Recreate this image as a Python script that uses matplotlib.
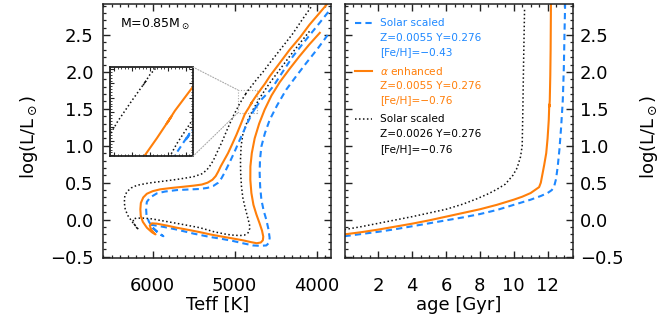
import matplotlib
matplotlib.use("Agg")
import matplotlib.pyplot as plt
from matplotlib.patches import ConnectionPatch, Rectangle
from matplotlib.ticker import MultipleLocator

# HR tracks, PMS -> ZAMS -> MS -> RGB  (Teff [K], log L/Lsun)
teff_solar1 = [3864, 3990, 4126, 4250, 4370, 4480, 4572, 4630, 4673, 4690, 4694, 4688, 4673, 4645,
               4613, 4585, 4572, 4585, 4613, 4690, 4775, 4900, 5018, 5160, 5301, 5500, 5706, 5860,
               5990, 6030, 5990, 5930, 5869,
               5920, 5990, 6045, 6075, 6080, 6071, 6030, 5949, 5850, 5706, 5560, 5423, 5330, 5261,
               5200, 5160, 5120, 5085, 5050, 5000, 4937, 4880, 4830, 4780, 4740, 4752, 4725, 4670,
               4600, 4532, 4420, 4289, 4170, 4046, 3930, 3823, 3790]
logl_solar1 = [2.50, 2.31, 2.12, 1.94, 1.76, 1.55, 1.35, 1.17, 0.99, 0.81, 0.63, 0.45, 0.27, 0.12,
               0.0, -0.14, -0.25, -0.32, -0.35, -0.355, -0.35, -0.32, -0.29, -0.26, -0.235, -0.19,
               -0.135, -0.10, -0.075, -0.07, -0.12, -0.18, -0.225,
               -0.19, -0.12, -0.03, 0.06, 0.15, 0.24, 0.30, 0.355, 0.38, 0.40, 0.408, 0.415, 0.43,
               0.455, 0.50, 0.56, 0.64, 0.72, 0.80, 0.92, 1.08, 1.22, 1.34, 1.45, 1.525, 1.50, 1.545,
               1.63, 1.71, 1.80, 1.99, 2.21, 2.38, 2.55, 2.71, 2.86, 2.92]

teff_alpha = [3960, 4090, 4210, 4330, 4450, 4550, 4633, 4700, 4755, 4790, 4807, 4808, 4795, 4770,
              4734, 4695, 4665, 4650, 4655, 4680, 4730, 4800, 4900, 5050, 5180, 5300, 5423, 5560,
              5706, 5830, 5949, 6010, 6035, 6020, 5985, 5965,
              6010, 6070, 6120, 6145, 6150, 6144, 6115, 6071, 6000, 5909, 5760, 5626, 5500, 5400,
              5330, 5270, 5230, 5200, 5170, 5130, 5080, 5030, 4977, 4925, 4875, 4830, 4790, 4803,
              4780, 4735, 4680, 4630, 4572, 4450, 4329, 4200, 4086, 3970, 3864, 3840]
logl_alpha = [2.53, 2.37, 2.21, 2.04, 1.86, 1.68, 1.49, 1.30, 1.10, 0.90, 0.72, 0.54, 0.36, 0.20,
              0.07, -0.05, -0.15, -0.23, -0.28, -0.31, -0.32, -0.305, -0.28, -0.25, -0.225, -0.20,
              -0.17, -0.14, -0.11, -0.08, -0.055, -0.05, -0.08, -0.13, -0.18, -0.20,
              -0.17, -0.11, -0.03, 0.05, 0.14, 0.225, 0.30, 0.35, 0.385, 0.41, 0.43, 0.445, 0.46,
              0.475, 0.50, 0.54, 0.59, 0.65, 0.72, 0.80, 0.90, 1.02, 1.15, 1.29, 1.43, 1.51, 1.585,
              1.56, 1.605, 1.68, 1.765, 1.84, 1.94, 2.12, 2.30, 2.47, 2.64, 2.79, 2.93, 2.96]

teff_solar2 = [4086, 4210, 4329, 4450, 4572, 4680, 4775, 4845, 4897, 4920, 4928, 4926, 4916, 4900,
               4876, 4845, 4818, 4815, 4836, 4880, 4937, 5020, 5098, 5250, 5423, 5660, 5909, 6010,
               6112, 6200, 6240, 6225, 6195, 6172,
               6205, 6250, 6300, 6334, 6346, 6340, 6313, 6260, 6192, 6050, 5909, 5700, 5504, 5400,
               5341, 5300, 5260, 5210, 5159, 5090, 5018, 4980, 4940, 4900, 4860, 4868, 4850, 4800,
               4730, 4660, 4572, 4430, 4289, 4180, 4066]
logl_solar2 = [2.55, 2.38, 2.21, 2.03, 1.85, 1.67, 1.49, 1.33, 1.17, 1.00, 0.81, 0.63, 0.45, 0.30,
               0.18, 0.05, -0.07, -0.12, -0.18, -0.21, -0.216, -0.21, -0.20, -0.165, -0.11, -0.06,
               -0.01, 0.01, 0.02, 0.02, 0.005, -0.06, -0.11, -0.135,
               -0.09, -0.03, 0.05, 0.135, 0.23, 0.32, 0.38, 0.43, 0.465, 0.495, 0.515, 0.545, 0.58,
               0.62, 0.67, 0.73, 0.80, 0.92, 1.04, 1.22, 1.40, 1.48, 1.567, 1.64, 1.71, 1.695, 1.73,
               1.80, 1.90, 1.99, 2.12, 2.32, 2.52, 2.70, 2.88]

# luminosity vs age [Gyr]
age_solar1 = [0.0, 1.0, 2.0, 3.0, 4.0, 5.0, 6.0, 7.0, 8.0, 9.0, 10.0, 11.0, 11.6, 12.0, 12.25,
              12.4, 12.5, 12.6, 12.7, 12.8, 12.9, 12.96, 13.0, 13.04]
lum_solar1 = [-0.225, -0.195, -0.165, -0.13, -0.09, -0.05, -0.01, 0.03, 0.075, 0.13, 0.20, 0.27,
              0.32, 0.36, 0.40, 0.46, 0.55, 0.72, 0.95, 1.25, 1.62, 2.05, 2.52, 2.95]

age_alpha = [0.0, 1.0, 2.0, 3.0, 4.0, 5.0, 6.0, 7.0, 8.0, 9.0, 10.0, 10.5, 11.0, 11.5, 11.6,
             11.7, 11.8, 11.92, 12.0, 12.07, 12.10, 12.11, 12.13, 12.16, 12.18, 12.2]
lum_alpha = [-0.20, -0.17, -0.135, -0.095, -0.055, -0.01, 0.04, 0.09, 0.14, 0.20, 0.27, 0.31, 0.36,
             0.44, 0.50, 0.62, 0.74, 0.90, 1.10, 1.35, 1.56, 1.53, 1.62, 1.95, 2.30, 2.95]

age_solar2 = [0.0, 1.0, 2.0, 3.0, 4.0, 5.0, 6.0, 7.0, 7.8, 8.5, 9.0, 9.5, 9.95, 10.2, 10.4, 10.5,
              10.54, 10.58, 10.64]
lum_solar2 = [-0.135, -0.095, -0.05, -0.005, 0.04, 0.09, 0.14, 0.21, 0.28, 0.35, 0.41, 0.48, 0.60,
              0.70, 0.85, 1.0, 1.5, 2.1, 2.86]

# zoomed region of the HR diagram
zoom_teff = (4961, 4730)
zoom_logl = (1.446, 1.757)

blue = "#1e88ff"
orange = "#ff7f0a"
styles = [
    (blue, (0, (3, 2)), 1.5),
    (orange, "-", 1.5),
    ("#111111", (0, (1, 1.6)), 1.1),
]
legend_text = [
    ["Solar scaled", "Z=0.0055 Y=0.276", "[Fe/H]=\u22120.43"],
    [r"$\alpha$ enhanced", "Z=0.0055 Y=0.276", "[Fe/H]=\u22120.76"],
    ["Solar scaled", "Z=0.0026 Y=0.276", "[Fe/H]=\u22120.76"],
]

plt.rcParams["font.family"] = "DejaVu Sans"
plt.rcParams["axes.edgecolor"] = "#222222"
plt.rcParams["axes.linewidth"] = 1.1
plt.rcParams["lines.solid_joinstyle"] = "round"
plt.rcParams["lines.dash_joinstyle"] = "round"

fig = plt.figure(figsize=(6.66, 3.26), dpi=100)
ax1 = fig.add_axes([0.1554, 0.2086, 0.342, 0.779])
ax2 = fig.add_axes([0.5173, 0.2086, 0.343, 0.779])


def style_ticks(ax, ypad=7, xpad=14, labelsize=13):
    ax.tick_params(which="both", direction="in", top=True, right=True, color="#222222")
    ax.tick_params(which="major", length=5, width=1)
    ax.tick_params(which="minor", length=2.5, width=0.9)
    ax.tick_params(axis="x", pad=xpad, labelsize=labelsize)
    ax.tick_params(axis="y", pad=ypad, labelsize=labelsize)


tracks_hr = [(teff_solar2, logl_solar2, 2), (teff_solar1, logl_solar1, 0), (teff_alpha, logl_alpha, 1)]
tracks_age = [(age_solar2, lum_solar2, 2), (age_solar1, lum_solar1, 0), (age_alpha, lum_alpha, 1)]

# left: HR diagram
for t, l, k in tracks_hr:
    c, ls, lw = styles[k]
    ax1.plot(t, l, color=c, linestyle=ls, linewidth=lw)
ax1.set_xlim(6600, 3820)
ax1.set_ylim(-0.52, 2.92)
ax1.xaxis.set_major_locator(MultipleLocator(1000))
ax1.xaxis.set_minor_locator(MultipleLocator(100))
ax1.yaxis.set_major_locator(MultipleLocator(0.5))
ax1.yaxis.set_minor_locator(MultipleLocator(0.1))
style_ticks(ax1)
ax1.set_xlabel("Teff [K]", fontsize=13)
ax1.xaxis.set_label_coords(0.5, -0.15)
ax1.set_ylabel(r"log(L/L$_\odot$)", fontsize=13)
ax1.yaxis.set_label_coords(-0.28, 0.476)
ax1.text(0.072, 0.92, r"M=0.85M$_\odot$", transform=ax1.transAxes, fontsize=9, va="center")

# inset
axins = ax1.inset_axes([0.0285, 0.40, 0.364, 0.352])
for t, l, k in tracks_hr:
    c, ls, lw = styles[k]
    axins.plot(t, l, color=c, linestyle=ls, linewidth=lw)
axins.set_xlim(*zoom_teff)
axins.set_ylim(*zoom_logl)
axins.xaxis.set_major_locator(MultipleLocator(50))
axins.xaxis.set_minor_locator(MultipleLocator(10))
axins.yaxis.set_major_locator(MultipleLocator(0.05))
axins.yaxis.set_minor_locator(MultipleLocator(0.01))
axins.tick_params(which="both", direction="in", top=True, right=True,
                  labelbottom=False, labelleft=False, color="#222222")
axins.tick_params(which="major", length=3)
axins.tick_params(which="minor", length=1.5)
for sp in axins.spines.values():
    sp.set_linewidth(1.3)

rect = Rectangle((min(zoom_teff), zoom_logl[0]), abs(zoom_teff[0] - zoom_teff[1]),
                 zoom_logl[1] - zoom_logl[0], fill=False, edgecolor="#aaaaaa",
                 linestyle=(0, (1, 1.5)), linewidth=0.8)
ax1.add_patch(rect)
for ya, yb in [(1, zoom_logl[1]), (0, zoom_logl[0])]:
    con = ConnectionPatch(xyA=(1, ya), coordsA=axins.transAxes,
                          xyB=(zoom_teff[0], yb), coordsB=ax1.transData,
                          color="#aaaaaa", linestyle=(0, (1, 1.5)), linewidth=0.8)
    fig.add_artist(con)

# right: luminosity vs age
for a, l, k in tracks_age:
    c, ls, lw = styles[k]
    ax2.plot(a, l, color=c, linestyle=ls, linewidth=lw)
ax2.set_xlim(0, 13.5)
ax2.set_ylim(-0.52, 2.92)
ax2.set_xticks(range(2, 14, 2))
ax2.xaxis.set_minor_locator(MultipleLocator(0.5))
ax2.yaxis.set_major_locator(MultipleLocator(0.5))
ax2.yaxis.set_minor_locator(MultipleLocator(0.1))
style_ticks(ax2, ypad=5)
ax2.yaxis.tick_right()
ax2.tick_params(which="both", left=True, right=True)
ax2.set_xlabel("age [Gyr]", fontsize=13)
ax2.xaxis.set_label_coords(0.5, -0.15)
ax2.yaxis.set_label_position("right")
ax2.set_ylabel(r"log(L/L$_\odot$)", fontsize=13)
ax2.yaxis.set_label_coords(1.284, 0.476)

# legend block
row_y = 0.926
for k, lines in enumerate(legend_text):
    c, ls, lw = styles[k]
    ax2.plot([0.046, 0.12], [row_y, row_y], transform=ax2.transAxes,
             color=c, linestyle=ls, linewidth=lw)
    tc = "black" if k == 2 else c
    for j, s in enumerate(lines):
        ax2.text(0.155, row_y - j * 0.058, s, transform=ax2.transAxes,
                 color=tc, fontsize=7.6, va="center")
    row_y -= 0.19

fig.savefig("out.png", dpi=100)
